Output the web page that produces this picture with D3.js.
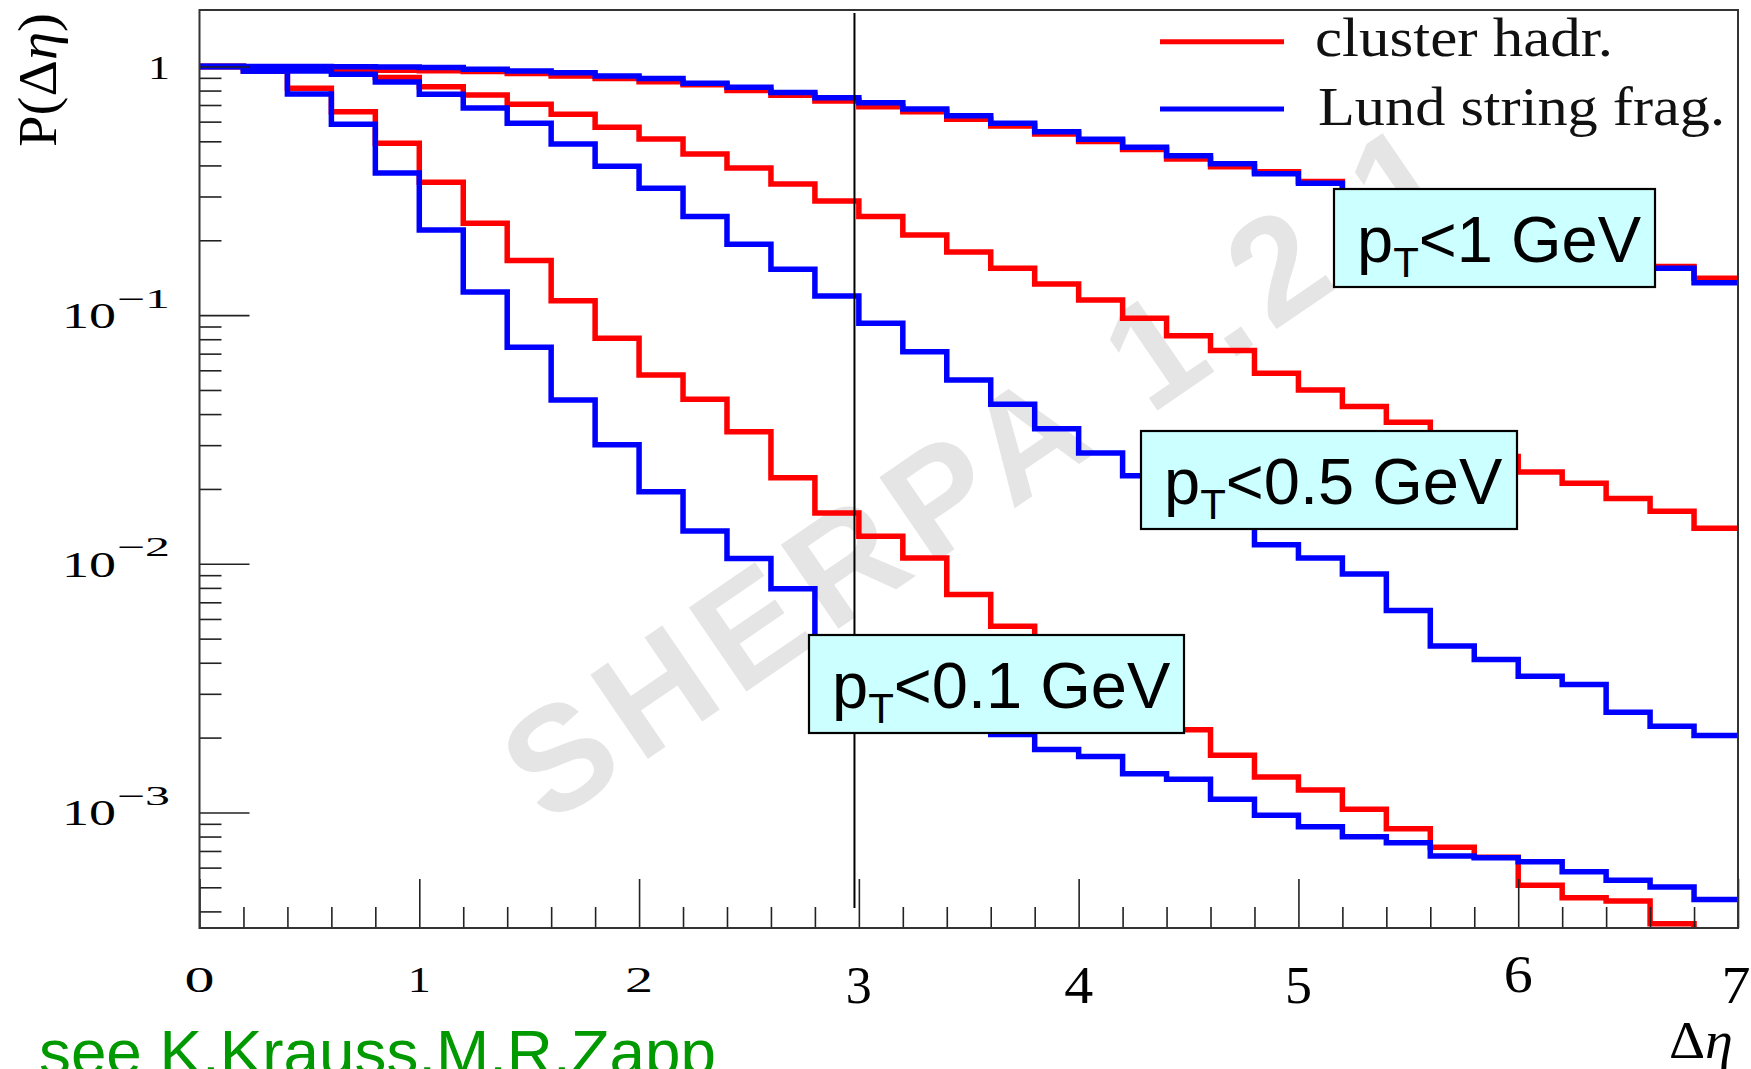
<!DOCTYPE html>
<html><head><meta charset="utf-8">
<script src="https://cdn.jsdelivr.net/npm/d3@7"></script>
<style>html,body{margin:0;padding:0;background:#fff;overflow:hidden}</style>
</head><body>
<svg id="chart" width="1751" height="1069" xmlns="http://www.w3.org/2000/svg"></svg>
<script>
// ---------------- DATA ----------------
const binEdges = [0,0.2,0.4,0.6,0.8,1.0,1.2,1.4,1.6,1.8,2.0,2.2,2.4,2.6,2.8,3.0,3.2,3.4,3.6,3.8,
                  4.0,4.2,4.4,4.6,4.8,5.0,5.2,5.4,5.6,5.8,6.0,6.2,6.4,6.6,6.8,7.0];

// pT < 1 GeV
const clusterPt1 = [1.0,0.99,0.98,0.968,0.965,0.962,0.955,0.938,0.916,0.895,0.869,0.845,0.80,0.766,0.727,0.689,0.658,0.613,
                    0.576,0.535,0.499,0.464,0.425,0.395,0.377,0.345,0.31,0.28,0.252,0.226,0.205,0.186,0.171,0.157,0.1407];
const lundPt1    = [1.0,1.0,1.0,0.998,0.995,0.99,0.974,0.959,0.944,0.916,0.894,0.856,0.825,0.785,0.749,0.715,0.675,0.633,
                    0.591,0.547,0.510,0.473,0.437,0.406,0.370,0.339,0.305,0.275,0.247,0.222,0.2,0.182,0.168,0.1544,0.135];
// pT < 0.5 GeV
const clusterPt05 = [1.0,0.985,0.97,0.965,0.903,0.829,0.768,0.705,0.642,0.569,0.511,0.445,0.391,0.337,0.288,0.249,0.210,0.1795,
                     0.1545,0.1334,0.1151,0.0971,0.0827,0.0720,0.0584,0.050,0.0429,0.0371,0.032,0.027,0.0234,0.0211,0.0183,0.01626,0.0139];
const lundPt05    = [1.0,0.96,0.96,0.93,0.866,0.774,0.681,0.591,0.488,0.397,0.324,0.249,0.193,0.153,0.1194,0.0928,0.0712,0.0549,
                     0.0438,0.0349,0.0279,0.0226,0.0185,0.0150,0.01194,0.01056,0.0091,0.00649,0.00467,0.00412,0.00353,0.00327,0.00253,0.00222,0.00204];
// pT < 0.1 GeV
const clusterPt01 = [1.0,0.96,0.817,0.658,0.491,0.342,0.234,0.166,0.1143,0.0807,0.0575,0.0459,0.034,0.0222,0.0160,0.0129,0.01056,0.00752,
                     0.00561,0.0046,0.0037,0.0029,0.00215,0.0017,0.00139,0.00123,0.00103,0.000859,0.000725,0.00066,0.00051,0.000454,0.00044,0.000357,0.0002];
const lundPt01    = [1.0,0.96,0.775,0.585,0.373,0.220,0.124,0.0743,0.0456,0.0301,0.0195,0.01355,0.0105,0.00793,0.0047,0.0036,0.0029,0.0024,
                     0.00206,0.00179,0.00168,0.00143,0.00136,0.00113,0.000975,0.000875,0.000798,0.000755,0.000668,0.000657,0.000633,0.000577,0.000534,0.000501,0.000447];

const xTickValues = [0,1,2,3,4,5,6,7];
const xTickLabels = ["0","1","2","3","4","5","6","7"];
const xMinorTicks = [0.2,0.4,0.6,0.8,1.2,1.4,1.6,1.8,2.2,2.4,2.6,2.8,3.2,3.4,3.6,3.8,4.2,4.4,4.6,4.8,5.2,5.4,5.6,5.8,6.2,6.4,6.6,6.8];
const yTickValues = [1,0.1,0.01,0.001];
const yTickBases  = ["1","10","10","10"];
const yTickExps   = ["","\u22121","\u22122","\u22123"];
const yMinorTicks = [0.2,0.3,0.4,0.5,0.6,0.7,0.8,0.9,0.02,0.03,0.04,0.05,0.06,0.07,0.08,0.09,
                     0.002,0.003,0.004,0.005,0.006,0.007,0.008,0.009,0.0004,0.0005,0.0006,0.0007,0.0008,0.0009];
const legendLabels = ["cluster hadr.","Lund string frag."];
const cutLabels = ["<1 GeV","<0.5 GeV","<0.1 GeV"];
const cutMarker = 2.98;
const watermarkText = "SHERPA 1.2.1";
const creditText = "see K.Krauss,M.R.Zapp";

// ---------------- LAYOUT ----------------
const plot = {left:199.5, right:1738, top:10, bottom:928};
const RED = "#ff0000", BLUE = "#0000ff";
const svg = d3.select("#chart");

const x = d3.scaleLinear().domain([0,7]).range([plot.left, plot.right]);
const y = d3.scaleLog().domain([3.43e-4, 1.687]).range([plot.bottom, plot.top]);

svg.append("rect").attr("width",1751).attr("height",1069).attr("fill","#fff");

svg.append("defs").append("clipPath").attr("id","clip")
  .append("rect").attr("x",plot.left).attr("y",plot.top)
  .attr("width",plot.right-plot.left).attr("height",plot.bottom-plot.top);

// watermark
svg.append("text")
  .attr("transform","translate(548,827) rotate(-34.35)")
  .attr("font-family","'Liberation Sans', Arial, sans-serif")
  .attr("font-weight","bold").attr("font-size",148)
  .attr("fill","#e5e5e5")
  .attr("textLength",1108).attr("lengthAdjust","spacing")
  .text(watermarkText);

// histograms
const line = d3.line().x(d=>x(d[0])).y(d=>y(Math.max(d[1],1e-5))).curve(d3.curveStepAfter);
function histPoints(vals){
  const pts = vals.map((v,i)=>[binEdges[i], v]);
  pts.push([binEdges[vals.length], vals[vals.length-1]]);
  return pts;
}
const series = [
  {v:clusterPt01,c:RED},{v:clusterPt05,c:RED},{v:clusterPt1,c:RED},
  {v:lundPt01,c:BLUE},{v:lundPt05,c:BLUE},{v:lundPt1,c:BLUE}
];
const gH = svg.append("g").attr("clip-path","url(#clip)");
gH.selectAll("path").data(series).join("path")
  .attr("d",d=>line(histPoints(d.v)))
  .attr("fill","none").attr("stroke",d=>d.c)
  .attr("stroke-width",5.5).attr("stroke-linejoin","miter").attr("stroke-linecap","butt");

// axes (inward ticks)
const tickColor = "#222";
function styleAxis(g){
  g.select(".domain").remove();
  g.selectAll(".tick line").attr("stroke",tickColor).attr("stroke-width",1.6);
  g.selectAll(".tick text").remove();
}
svg.append("g").attr("transform",`translate(0,${plot.bottom})`)
  .call(d3.axisTop(x).tickValues(xTickValues).tickSize(49).tickFormat("")).call(styleAxis);
svg.append("g").attr("transform",`translate(0,${plot.bottom})`)
  .call(d3.axisTop(x).tickValues(xMinorTicks).tickSize(21).tickFormat("")).call(styleAxis);
svg.append("g").attr("transform",`translate(${plot.left},0)`)
  .call(d3.axisRight(y).tickValues(yTickValues).tickSize(50).tickFormat("")).call(styleAxis);
svg.append("g").attr("transform",`translate(${plot.left},0)`)
  .call(d3.axisRight(y).tickValues(yMinorTicks).tickSize(22).tickFormat("")).call(styleAxis);

// frame
svg.append("rect").attr("x",plot.left).attr("y",plot.top)
  .attr("width",plot.right-plot.left).attr("height",plot.bottom-plot.top)
  .attr("fill","none").attr("stroke","#333").attr("stroke-width",2);

// vertical marker line
svg.append("line").attr("x1",x(cutMarker)).attr("x2",x(cutMarker))
  .attr("y1",13).attr("y2",908).attr("stroke","#000").attr("stroke-width",2);

// y tick labels
const serif = "'Liberation Serif','Times New Roman',serif";
yTickValues.forEach((v,i)=>{
  const ty = y(v);
  if (yTickExps[i]===""){
    svg.append("text").attr("x",159).attr("y",ty+12.5).attr("text-anchor","middle")
      .attr("font-family",serif).attr("font-size",34)
      .attr("textLength",22).attr("lengthAdjust","spacingAndGlyphs")
      .text(yTickBases[i]);
  } else {
    svg.append("text").attr("x",62).attr("y",ty+13)
      .attr("font-family",serif).attr("font-size",36)
      .attr("textLength",54).attr("lengthAdjust","spacingAndGlyphs")
      .text(yTickBases[i]);
    svg.append("text").attr("x",117).attr("y",ty-7.5)
      .attr("font-family",serif).attr("font-size",27)
      .attr("textLength",53).attr("lengthAdjust","spacingAndGlyphs")
      .text(yTickExps[i]);
  }
});

// x tick labels (mimic old-style figures)
const descending = "34579", ascending = "68";
const xInkWidth = {"0":28,"1":21,"2":26,"3":24,"4":27,"5":25,"6":27,"7":27};
xTickValues.forEach((v,i)=>{
  const lab = xTickLabels[i];
  let fs = 36, base = 992;
  if (descending.includes(lab)) { fs = 53; base = 1003; }
  else if (ascending.includes(lab)) { fs = 52; base = 992; }
  svg.append("text").attr("x",Math.min(x(v),1736)).attr("y",base).attr("text-anchor","middle")
    .attr("font-family",serif).attr("font-size",fs)
    .attr("textLength",xInkWidth[lab]+2).attr("lengthAdjust","spacingAndGlyphs")
    .text(lab);
});

// axis titles
const yl = svg.append("text").attr("transform","translate(55.5,80) rotate(-90)")
  .attr("text-anchor","middle").attr("font-family",serif).attr("font-size",54)
  .attr("textLength",134).attr("lengthAdjust","spacingAndGlyphs");
yl.append("tspan").text("P(\u0394");
yl.append("tspan").attr("font-style","italic").text("\u03b7");
yl.append("tspan").text(")");

const xl = svg.append("text").attr("x",1669).attr("y",1058)
  .attr("font-family",serif).attr("font-size",52)
  .attr("textLength",64).attr("lengthAdjust","spacingAndGlyphs");
xl.append("tspan").text("\u0394");
xl.append("tspan").attr("font-style","italic").text("\u03b7");

// legend
const legend = [{c:RED,ly:41.7,ty:55.5,tx:1315,tl:298},{c:BLUE,ly:109,ty:124.5,tx:1318,tl:407}];
legend.forEach((d,i)=>{
  svg.append("line").attr("x1",1160).attr("x2",1284).attr("y1",d.ly).attr("y2",d.ly)
    .attr("stroke",d.c).attr("stroke-width",5);
  svg.append("text").attr("x",d.tx).attr("y",d.ty).attr("font-family",serif).attr("font-size",54)
    .attr("textLength",d.tl).attr("lengthAdjust","spacingAndGlyphs").attr("fill","#111")
    .text(legendLabels[i]);
});

// pT boxes
const boxes = [{x:1334,y:189,w:321,h:98},{x:1141,y:431,w:376,h:98},{x:809,y:635,w:375,h:98}];
const sans = "'Liberation Sans',Arial,Helvetica,sans-serif";
boxes.forEach((b,i)=>{
  svg.append("rect").attr("x",b.x).attr("y",b.y).attr("width",b.w).attr("height",b.h)
    .attr("fill","#ccffff").attr("stroke","#000").attr("stroke-width",2.2);
  const t = svg.append("text").attr("x",b.x+23).attr("y",b.y+73)
    .attr("font-family",sans).attr("font-size",65).attr("fill","#000");
  t.append("tspan").text("p");
  t.append("tspan").attr("font-size",42).attr("dy",15).text("T");
  t.append("tspan").attr("dy",-15).text(cutLabels[i]);
});

// credit (cut off at the bottom edge, as in the original slide)
svg.append("text").attr("x",39).attr("y",1074).attr("font-family",sans).attr("font-size",63)
  .attr("fill","#009900").attr("textLength",677).attr("lengthAdjust","spacingAndGlyphs")
  .text(creditText);
</script>
</body></html>
